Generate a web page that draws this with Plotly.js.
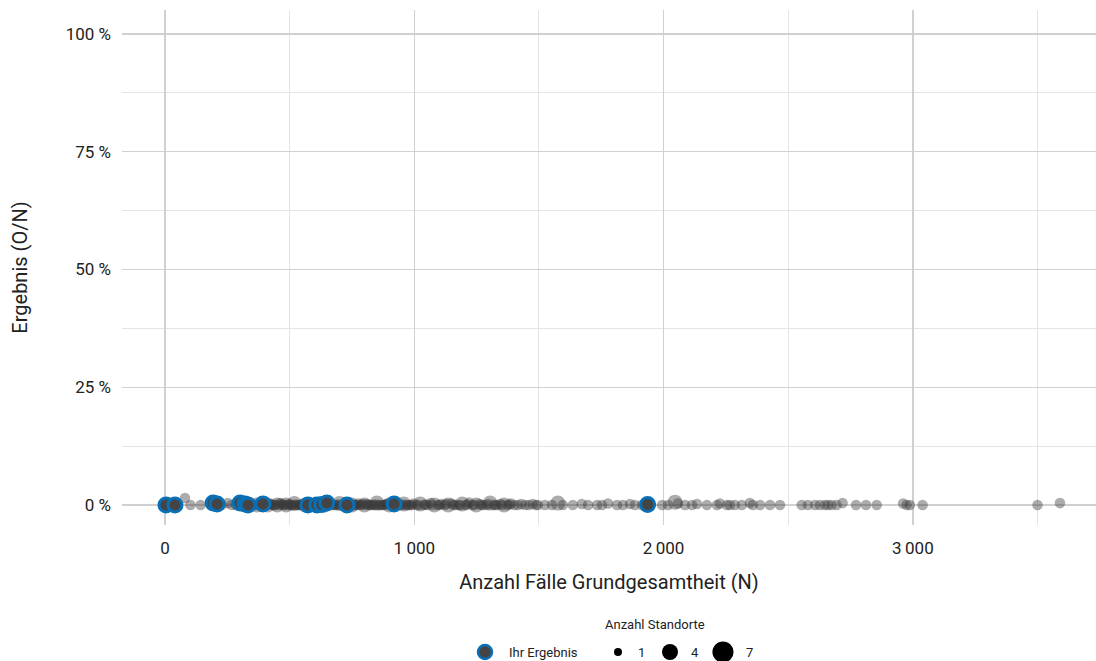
<!DOCTYPE html>
<html>
<head>
<meta charset="utf-8">
<script src="https://cdn.plot.ly/plotly-3.0.1.min.js"></script>
<style>html,body{margin:0;padding:0;background:#fff;}#chart{width:1096px;height:661px;}</style>
</head>
<body>
<div id="chart"></div>
<script>
// Grey points: all sites (N, result O/N, number of locations)
const greyN = [12,80,102,143,188,228,252,268,285,298,
  310,325,342,356,368,380,398,412,425,438,450,462,474,486,497,
  508,519,530,541,552,563,588,597,618,640,662,675,688,700,712,724,738,750,762,775,788,800,812,825,838,850,862,875,888,900,912,930,945,958,972,985,998,
  1010,1024,1038,1052,1066,1080,1094,1108,1122,1136,1150,1165,1178,1192,1206,1220,1234,1248,1262,1276,1290,1304,1318,1332,1346,1360,1374,1388,1402,1416,1430,1445,1460,1475,1488,
  1496,1524,1552,1576,1596,1636,1672,1697,1733,1753,1777,1813,1837,1865,1885,1913,
  1994,2018,2046,2058,2086,2114,2134,2174,2214,2226,2254,2266,2286,2314,2346,2358,2387,2427,2467,
  2554,2579,2607,2627,2647,2659,2674,2694,2718,2772,2812,2855,2961,2975,2988,3039,3500,3590,
  315,333,347,362,375,392,405,418,432,444,456,468,480,492,
  503,514,525,536,547,558,570,582,593,604,615,626,638,650,666,680,694,706,718,730,
  744,756,768,781,794,806,818,831,844,856,868,881,894,906,918,936,951,964,978,991,
  1017,1045,1073,1101,1129,1157,1185,1213,1241,1269,1297,1325,1353,1381];
const greyY = [0,0.015,0,0,0.003,0,0.004,0,0,0.002,
  0,0,0.002,0,0,0.003,0,0,0.002,0,0,0.004,0,0,0.002,
  0,0.003,0,0,0.002,0,0,0.003,0,0,0.002,0,0,0.003,0,0,0.002,0,0,0.003,0,0,0.002,0,0,0.004,0,0,0.002,0,0.003,0,0,0.002,0,0,0.003,
  0,0.002,0,0,0.004,0,0,0.002,0,0,0.003,0,0,0.002,0,0.005,0,0,0.002,0,0,0.004,0,0,0.002,0,0,0.003,0,0,0.002,0,0,0.002,0,
  0,0,0,0.004,0,0,0.002,0,0,0,0.003,0,0,0.002,0,0,
  0,0,0.006,0.003,0,0,0.002,0,0,0.003,0,0,0,0,0.004,0,0,0,0,
  0,0,0,0,0,0,0,0,0.004,0,0,0,0.003,0,0,0,0,0.004,
  0,0.001,0,0,0.002,0,0,0.001,0,0,0,0.002,0,0,
  0,0,0.001,0,0,0.002,0,0,0,0.001,0,0,0.002,0,0,0,0.001,0,0,0,
  0.001,0,0,0,0.002,0,0,0,0.001,0,0,0,0.002,0,0,0,0.001,0,0,0,
  0,0.001,0,0,0.002,0,0,0.001,0,0,0.002,0,0,0.001];
const greyCount = [1,1,1,1,1,1,1,1,1,1,
  1,2,1,1,2,1,1,2,1,1,2,1,1,2,1,
  1,2,1,1,1,2,1,1,1,2,1,1,1,2,1,1,1,2,1,1,1,2,1,1,1,2,1,1,1,2,1,1,1,2,1,1,1,
  1,2,1,1,1,2,1,1,1,2,1,1,1,2,1,1,1,2,1,1,1,2,1,1,1,2,1,1,1,1,1,1,1,1,1,
  1,1,1,2,1,1,1,1,1,1,1,1,1,1,1,1,
  1,1,2,1,1,1,1,1,1,1,1,1,1,1,1,1,1,1,1,
  1,1,1,1,1,1,1,1,1,1,1,1,1,1,1,1,1,1,
  1,1,1,1,1,1,1,1,1,1,1,1,1,1,
  1,1,1,1,1,1,1,1,1,1,1,1,1,1,1,1,1,1,1,1,
  1,1,1,1,1,1,1,1,1,1,1,1,1,1,1,1,1,1,1,1,
  1,1,1,1,1,1,1,1,1,1,1,1,1,1];
// Blue points: own results
const ownN = [4,40,193,209,301,321,333,393,573,609,629,649,730,919,1936];
const ownY = [0,0,0.004,0.002,0.004,0.002,0,0.002,0,0,0.001,0.004,0,0.002,0.001];
// Axis ticks
const xTickVals = [0,1000,2000,3000];
const xTickText = ['0','1\u2009000','2\u2009000','3\u2009000'];
const yTickVals = [0,0.25,0.5,0.75,1];
const yTickText = ['0 %','25 %','50 %','75 %','100 %'];
// Legend
const legendCounts = [1,4,7];

const FONT = 'Roboto, "Noto Sans", sans-serif';
const TXT = '#222222';
const BLUE = '#0a6fb5';
const DOT = '#444444';
const sizeRef = 1/56; // diameter ~ 7.5 * sqrt(count)

const traces = [
  {
    type: 'scatter', mode: 'markers', x: greyN, y: greyY,
    marker: {size: greyCount, sizemode: 'area', sizeref: sizeRef, color: '#3a3a3a', opacity: 0.42, line: {width: 0}},
    hoverinfo: 'skip', showlegend: false, cliponaxis: false
  },
  {
    type: 'scatter', mode: 'markers', x: ownN, y: ownY,
    marker: {size: 14, color: DOT, line: {color: BLUE, width: 3}},
    hoverinfo: 'skip', showlegend: false, cliponaxis: false
  }
];

// legend positions (paper coords)
const L = 122, W = 974, T = 10, H = 515;
const px = x => (x - L) / W;
const py = y => (T + H - y) / H;
const shapes = [];
const annotations = [];
const legY = py(652);
shapes.push({type:'circle', xref:'paper', yref:'paper', xsizemode:'pixel', ysizemode:'pixel',
  xanchor: px(485), yanchor: legY, x0:-7, x1:7, y0:-7, y1:7, fillcolor: DOT, line:{color:BLUE, width:2.5}});
annotations.push({xref:'paper', yref:'paper', x: px(507), y: legY, xanchor:'left', yanchor:'middle', showarrow:false,
  text:'Ihr Ergebnis', font:{family:FONT, size:13, color:TXT}});
const legDotX = [618, 670, 723];
const legLabX = [641, 695, 749];
legendCounts.forEach((c, i) => {
  const r = 4 * Math.sqrt(c);
  shapes.push({type:'circle', xref:'paper', yref:'paper', xsizemode:'pixel', ysizemode:'pixel',
    xanchor: px(legDotX[i]), yanchor: legY, x0:-r, x1:r, y0:-r, y1:r, fillcolor:'#000', line:{width:0}});
  annotations.push({xref:'paper', yref:'paper', x: px(legLabX[i]), y: legY, xanchor:'center', yanchor:'middle', showarrow:false,
    text: String(c), font:{family:FONT, size:13, color:TXT}});
});
annotations.push({xref:'paper', yref:'paper', x: px(655), y: py(624), xanchor:'center', yanchor:'middle', showarrow:false,
  text:'Anzahl Standorte', font:{family:FONT, size:13, color:TXT}});

const layout = {
  width: 1096, height: 661,
  margin: {l: L, r: 0, t: T, b: 661 - T - H},
  paper_bgcolor: '#ffffff', plot_bgcolor: '#ffffff',
  font: {family: FONT, color: TXT},
  showlegend: false,
  xaxis: {
    range: [-172.5, 3734.6], tickvals: xTickVals, ticktext: xTickText,
    showgrid: true, gridcolor: '#d0d0d0', gridwidth: 1.3, zeroline: false, showline: false, ticks: '',
    minor: {dtick: 500, tick0: 0, showgrid: true, gridcolor: '#e4e4e4', gridwidth: 1, ticks: ''},
    tickfont: {family: FONT, size: 17, color: TXT}, ticklabelstandoff: 11,
    title: {text: 'Anzahl Fälle Grundgesamtheit (N)', font: {family: FONT, size: 20, color: TXT}, standoff: 17},
    fixedrange: true
  },
  yaxis: {
    range: [-0.0425, 1.051], tickvals: yTickVals, ticktext: yTickText,
    showgrid: true, gridcolor: '#d0d0d0', gridwidth: 1.3, zeroline: false, showline: false, ticks: '',
    minor: {dtick: 0.125, tick0: 0, showgrid: true, gridcolor: '#e4e4e4', gridwidth: 1, ticks: ''},
    tickfont: {family: FONT, size: 17, color: TXT}, ticklabelstandoff: 10,
    title: {text: 'Ergebnis (O/N)', font: {family: FONT, size: 20, color: TXT}, standoff: 32},
    fixedrange: true
  },
  shapes: shapes,
  annotations: annotations
};

Plotly.newPlot('chart', traces, layout, {displayModeBar: false, staticPlot: true});
</script>
</body>
</html>
